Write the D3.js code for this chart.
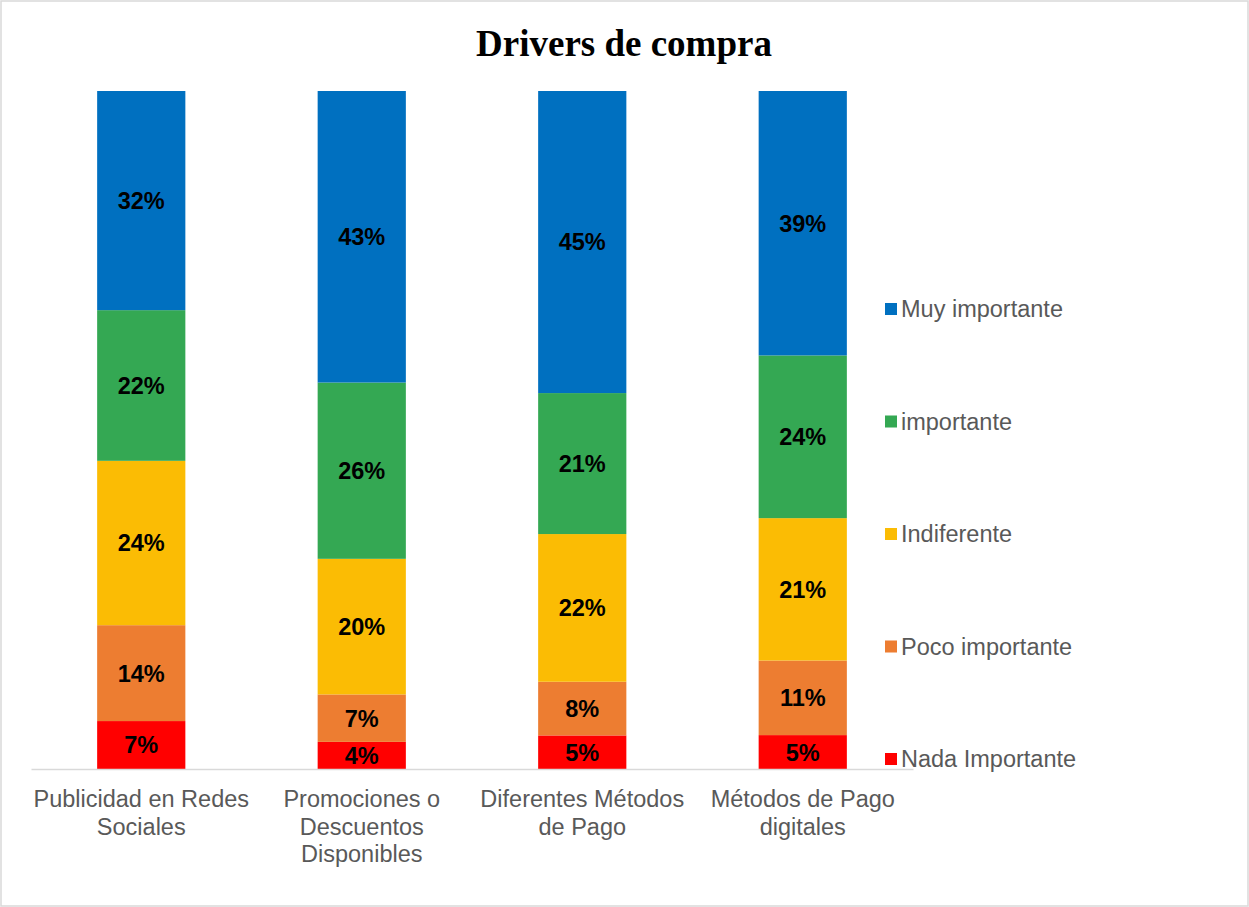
<!DOCTYPE html>
<html>
<head>
<meta charset="utf-8">
<script src="https://cdn.jsdelivr.net/npm/d3@7"></script>
<style>
  body { margin: 0; background: #fff; }
  svg { display: block; }
</style>
</head>
<body>
<svg id="chart" width="1249" height="907"></svg>
<script>
// data
const categories = [
  ["Publicidad en Redes", "Sociales"],
  ["Promociones o", "Descuentos", "Disponibles"],
  ["Diferentes Métodos", "de Pago"],
  ["Métodos de Pago", "digitales"]
];
const seriesNames = ["Nada Importante", "Poco importante", "Indiferente", "importante", "Muy importante"];
const nada = [7, 4, 5, 5];
const poco = [14, 7, 8, 11];
const indiferente = [24, 20, 22, 21];
const importante = [22, 26, 21, 24];
const muy = [32, 43, 45, 39];
const colors = ["#FF0000", "#ED7D31", "#FBBC04", "#34A853", "#0070C0"];

const rows = categories.map((c, i) => ({
  key: i,
  "Nada Importante": nada[i],
  "Poco importante": poco[i],
  "Indiferente": indiferente[i],
  "importante": importante[i],
  "Muy importante": muy[i]
}));

const svg = d3.select("#chart");
const width = +svg.attr("width");
const height = +svg.attr("height");
const sans = "'Liberation Sans', Arial, sans-serif";

// outer border
svg.append("rect")
  .attr("x", 1).attr("y", 1)
  .attr("width", width - 2).attr("height", height - 2)
  .attr("fill", "#fff")
  .attr("stroke", "#D9D9D9")
  .attr("stroke-width", 1.5);

svg.append("text")
  .attr("x", 624)
  .attr("y", 56)
  .attr("text-anchor", "middle")
  .attr("font-family", "'Liberation Serif', 'Times New Roman', serif")
  .attr("font-weight", "bold")
  .attr("font-size", 37)
  .attr("fill", "#000")
  .text("Drivers de compra");

const x = d3.scaleBand()
  .domain(d3.range(categories.length))
  .range([31, 913])
  .paddingInner(0.6)
  .paddingOuter(0.3);

const y = d3.scaleLinear().domain([0, 1]).range([769, 91]);

const stack = d3.stack().keys(seriesNames).offset(d3.stackOffsetExpand);
const series = stack(rows);

const groups = svg.append("g")
  .selectAll("g")
  .data(series)
  .join("g")
  .attr("fill", (d, i) => colors[i]);

groups.selectAll("rect")
  .data((d) => d)
  .join("rect")
  .attr("x", (d) => x(d.data.key))
  .attr("y", (d) => y(d[1]))
  .attr("width", x.bandwidth())
  .attr("height", (d) => y(d[0]) - y(d[1]));

groups.selectAll("text")
  .data((d) => d.map((p) => ({ p, key: d.key })))
  .join("text")
  .attr("x", (d) => x(d.p.data.key) + x.bandwidth() / 2)
  .attr("y", (d) => (y(d.p[0]) + y(d.p[1])) / 2)
  .attr("dy", "0.36em")
  .attr("text-anchor", "middle")
  .attr("font-family", sans)
  .attr("font-weight", "bold")
  .attr("font-size", 23.5)
  .attr("fill", "#000")
  .text((d) => d.p.data[d.key] + "%");

// x axis
const xAxis = svg.append("g")
  .attr("transform", "translate(0,769)")
  .call(d3.axisBottom(x).tickSize(0).tickFormat(""));
xAxis.select(".domain").attr("stroke", "#D9D9D9").attr("stroke-width", 1.5);

const catLabels = svg.append("g")
  .selectAll("text")
  .data(categories)
  .join("text")
  .attr("text-anchor", "middle")
  .attr("font-family", sans)
  .attr("font-size", 23.5)
  .attr("fill", "#595959")
  .attr("transform", (d, i) => `translate(${x(i) + x.bandwidth() / 2},807)`);
catLabels.selectAll("tspan")
  .data((d) => d)
  .join("tspan")
  .attr("x", 0)
  .attr("y", (d, i) => i * 27.5)
  .text((d) => d);

// legend (top to bottom: Muy importante ... Nada Importante)
const legendY = d3.scalePoint()
  .domain(seriesNames.slice().reverse())
  .range([309, 759]);

const legend = svg.append("g")
  .selectAll("g")
  .data(seriesNames)
  .join("g")
  .attr("transform", (d) => `translate(885,${legendY(d)})`);

legend.append("rect")
  .attr("x", 0).attr("y", -6)
  .attr("width", 12).attr("height", 12)
  .attr("fill", (d, i) => colors[i]);

legend.append("text")
  .attr("x", 16)
  .attr("dy", "0.36em")
  .attr("font-family", sans)
  .attr("font-size", 23.5)
  .attr("fill", "#595959")
  .text((d) => d);
</script>
</body>
</html>
